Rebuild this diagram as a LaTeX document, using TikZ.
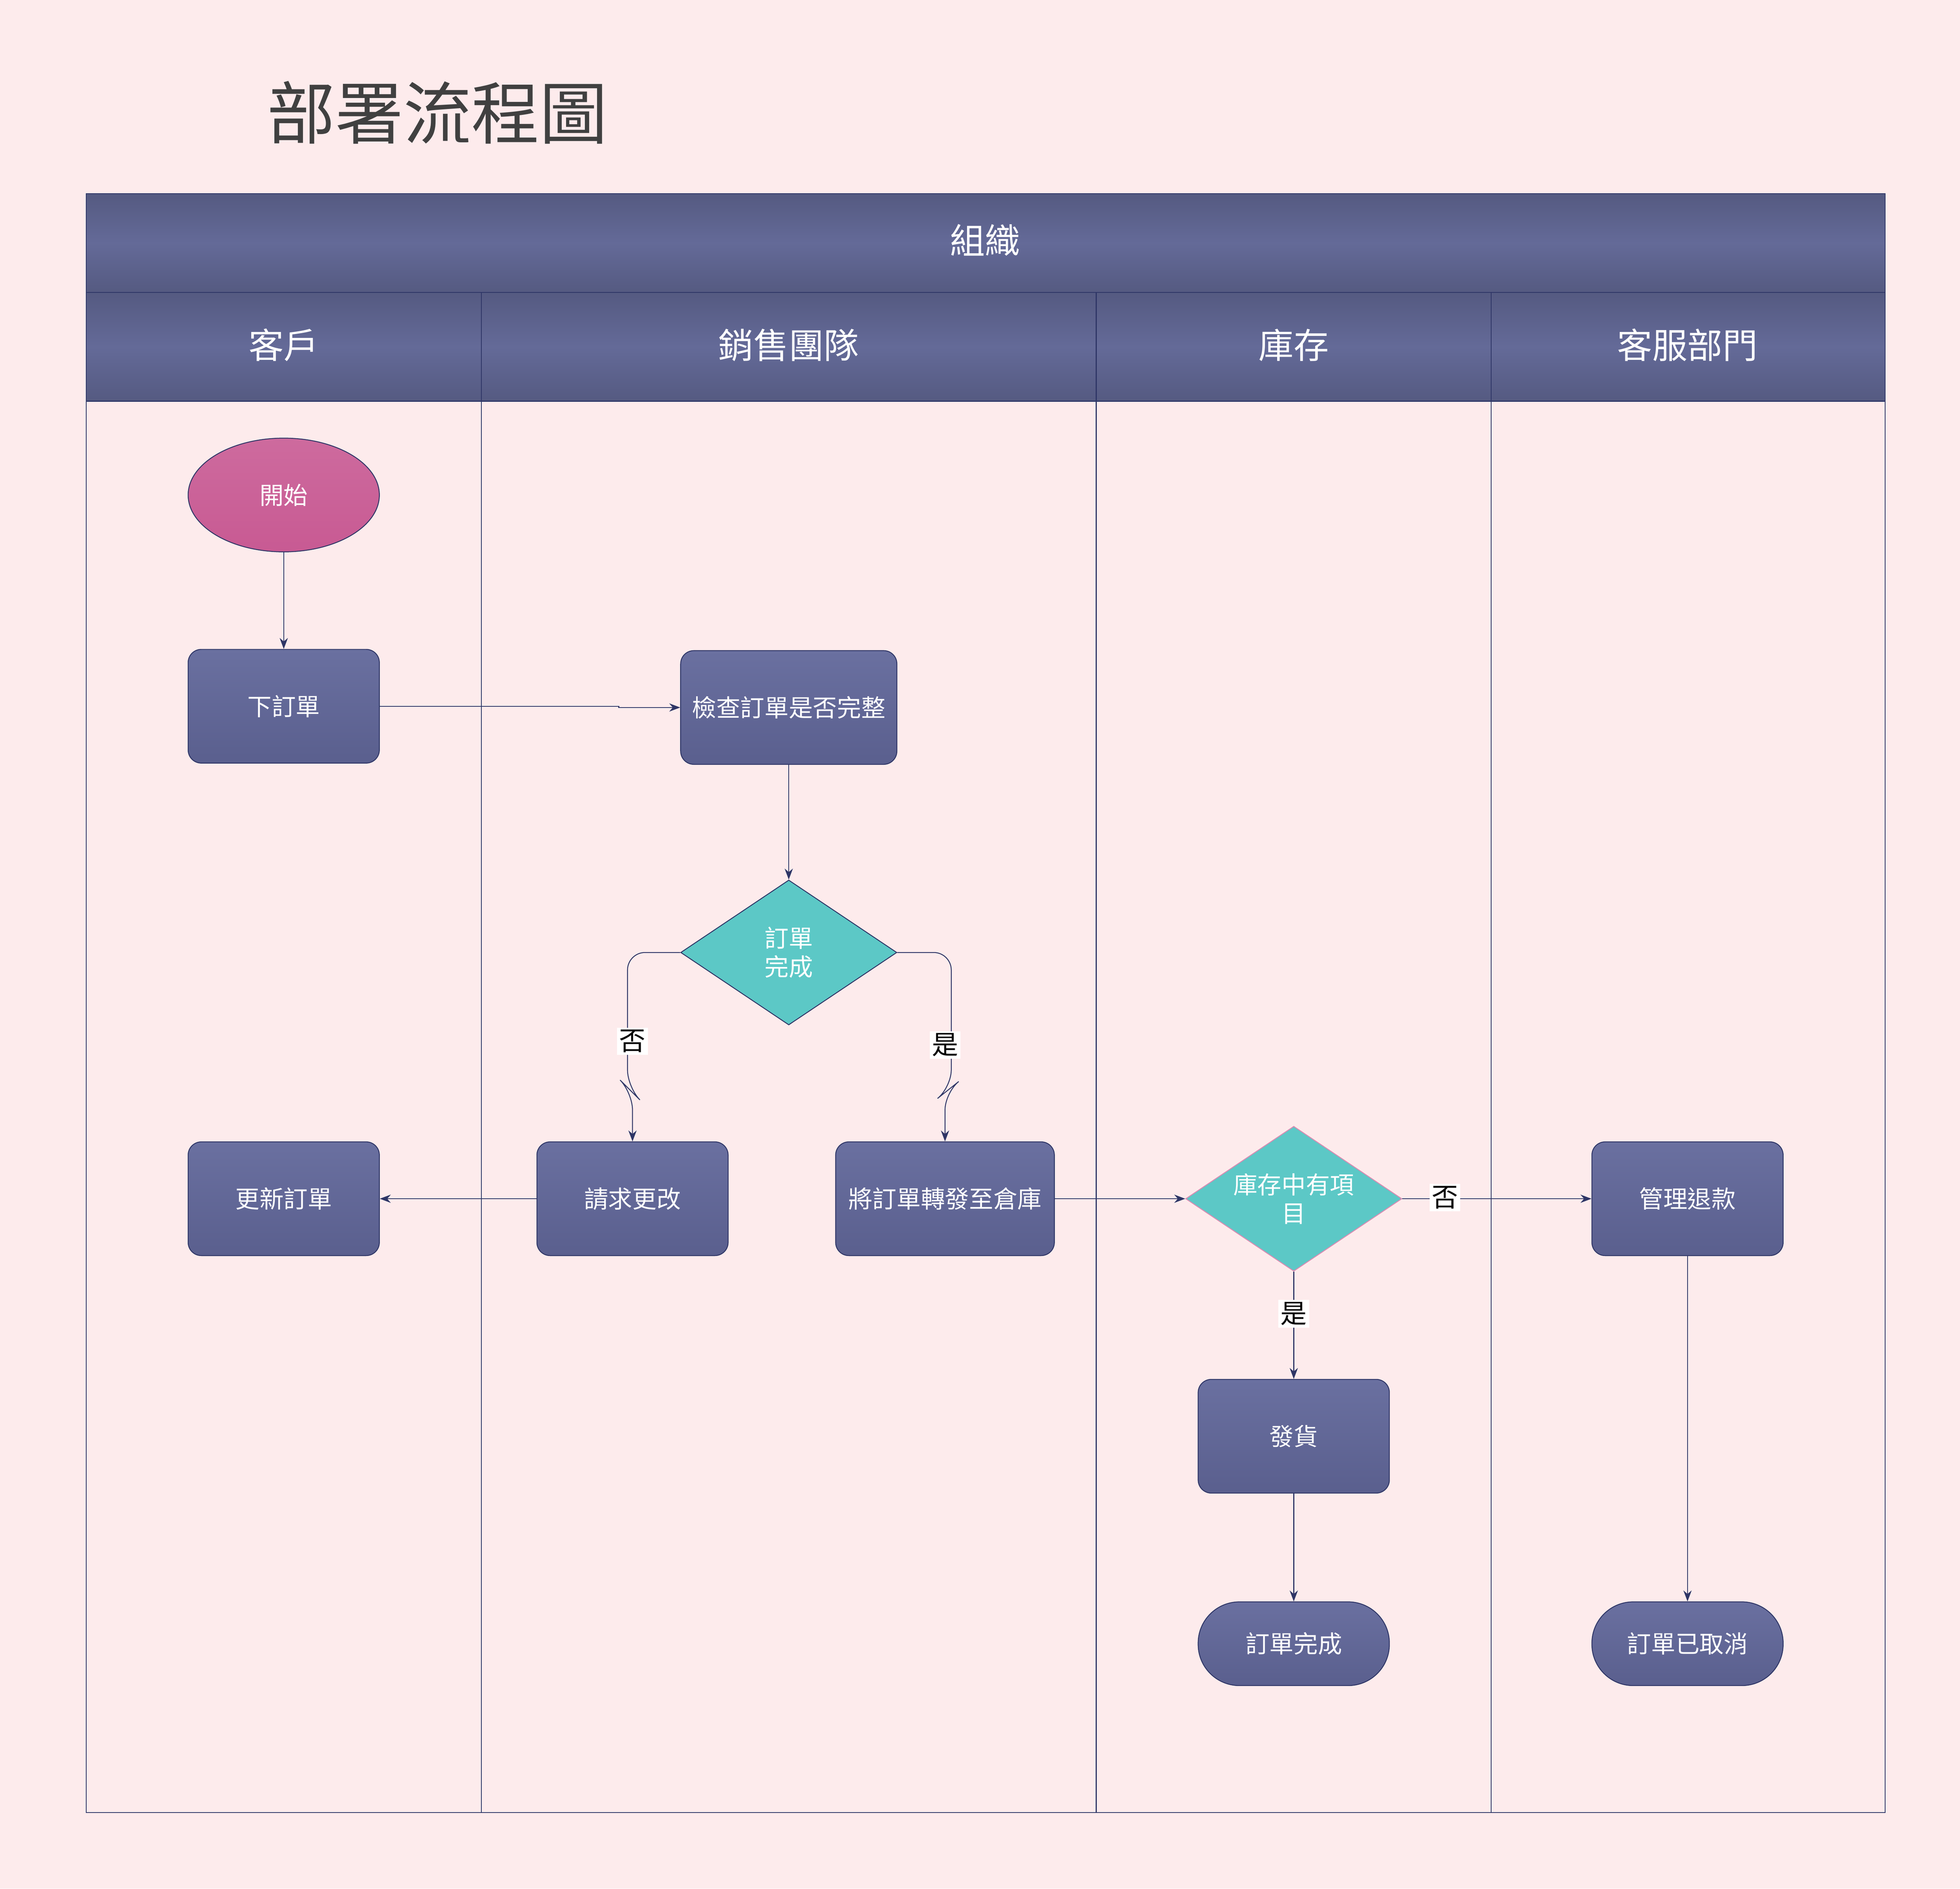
\documentclass[tikz,border=0pt]{standalone}
\usepackage{fontspec}
\setmainfont{Noto Sans CJK TC}
\usetikzlibrary{shapes.geometric,arrows.meta}
\definecolor{bgpink}{HTML}{FDEBEC}
\definecolor{lanecol}{HTML}{646A98}
\definecolor{lanedark}{HTML}{2E3566}
\definecolor{boxtop}{HTML}{5A5F8E}
\definecolor{boxbot}{HTML}{6A70A0}
\definecolor{startcol}{HTML}{C85A93}
\definecolor{teal}{HTML}{5CC8C6}
\tikzset{
  proc/.style={rectangle,rounded corners=6pt,draw=lanedark,top color=boxbot,bottom color=boxtop,
    text=white,minimum width=3.06cm,minimum height=1.82cm,font=\fontsize{11}{13}\selectfont},
  term/.style={proc,rounded corners=0.66cm,minimum height=1.34cm},
  decide/.style={diamond,aspect=1.5,draw=lanedark,fill=teal,text=white,inner sep=0pt,
    minimum width=3.46cm,minimum height=2.32cm,align=center,font=\fontsize{11}{13}\selectfont},
  head/.style={draw=lanedark,top color=lanecol!85!black,bottom color=lanecol!85!black,middle color=lanecol,
    text=white,font=\fontsize{16}{18}\selectfont},
  flow/.style={draw=lanedark,-{Stealth[length=5pt]}},
  tag/.style={fill=white,inner sep=1pt,font=\fontsize{12}{14}\selectfont}
}
\begin{document}
\begin{tikzpicture}[x=0.02cm,y=-0.02cm]
\fill[bgpink] (0,0) rectangle (1568,1511);
\useasboundingbox (0,0) rectangle (1568,1511);
% title
\node[text=black!75,font=\fontsize{31}{34}\selectfont] (title) at (350,90) {部署流程圖};
% pool and lanes
\draw[lanedark] (69,321) rectangle (1508,1450);
\foreach \x in {385,877,1193} \draw[lanedark] (\x,321) -- (\x,1450);
\draw[head] (69,155) rectangle (1508,234);
\node[text=white,font=\fontsize{16}{18}\selectfont] (org) at (788,192) {組織};
\draw[head] (69,234) rectangle (385,321);
\draw[head] (385,234) rectangle (877,321);
\draw[head] (877,234) rectangle (1193,321);
\draw[head] (1193,234) rectangle (1508,321);
\node[text=white,font=\fontsize{16}{18}\selectfont] (l1) at (227,276) {客戶};
\node[text=white,font=\fontsize{16}{18}\selectfont] (l2) at (631,276) {銷售團隊};
\node[text=white,font=\fontsize{16}{18}\selectfont] (l3) at (1035,276) {庫存};
\node[text=white,font=\fontsize{16}{18}\selectfont] (l4) at (1350,276) {客服部門};

% nodes
\node[ellipse,draw=lanedark,top color=startcol!90!white,bottom color=startcol,text=white,
  minimum width=3.06cm,minimum height=1.82cm,font=\fontsize{11}{13}\selectfont] (start) at (227,396) {開始};
\node[proc] (place) at (227,565) {下訂單};
\node[proc,minimum width=3.46cm] (check) at (631,566) {檢查訂單是否完整};
\node[decide] (done) at (631,762) {訂單\\完成};
\node[proc] (update) at (227,959) {更新訂單};
\node[proc] (req) at (506,959) {請求更改};
\node[proc,minimum width=3.5cm] (fwd) at (756,959) {將訂單轉發至倉庫};
\node[decide,draw=startcol!70] (stock) at (1035,959) {庫存中有項\\目};
\node[proc] (refund) at (1350,959) {管理退款};
\node[proc] (ship) at (1035,1149) {發貨};
\node[term] (fin) at (1035,1315) {訂單完成};
\node[term] (cancel) at (1350,1315) {訂單已取消};

% connectors
\draw[flow] (start) -- (place);
\draw[flow] (place.east) -- (495,565) -- (495,566) -- (check.west);
\draw[flow] (check) -- (done);
\draw[flow,rounded corners=8pt] (done.west) -- (502,762) -- (502,870) -- (506,874) -- (req.north);
\node[tag] (no1) at (506,833) {否};
\draw[flow,rounded corners=8pt] (done.east) -- (761,762) -- (761,870) -- (756,874) -- (fwd.north);
\node[tag] (yes1) at (756,836) {是};
\draw[flow] (req) -- (update);
\draw[flow] (fwd) -- (stock);
\draw[flow] (stock) -- (refund);
\node[tag] (no2) at (1156,958) {否};
\draw[flow] (stock) -- (ship);
\node[tag] (yes2) at (1035,1051) {是};
\draw[flow] (ship) -- (fin);
\draw[flow] (refund) -- (cancel);
\end{tikzpicture}
\end{document}
